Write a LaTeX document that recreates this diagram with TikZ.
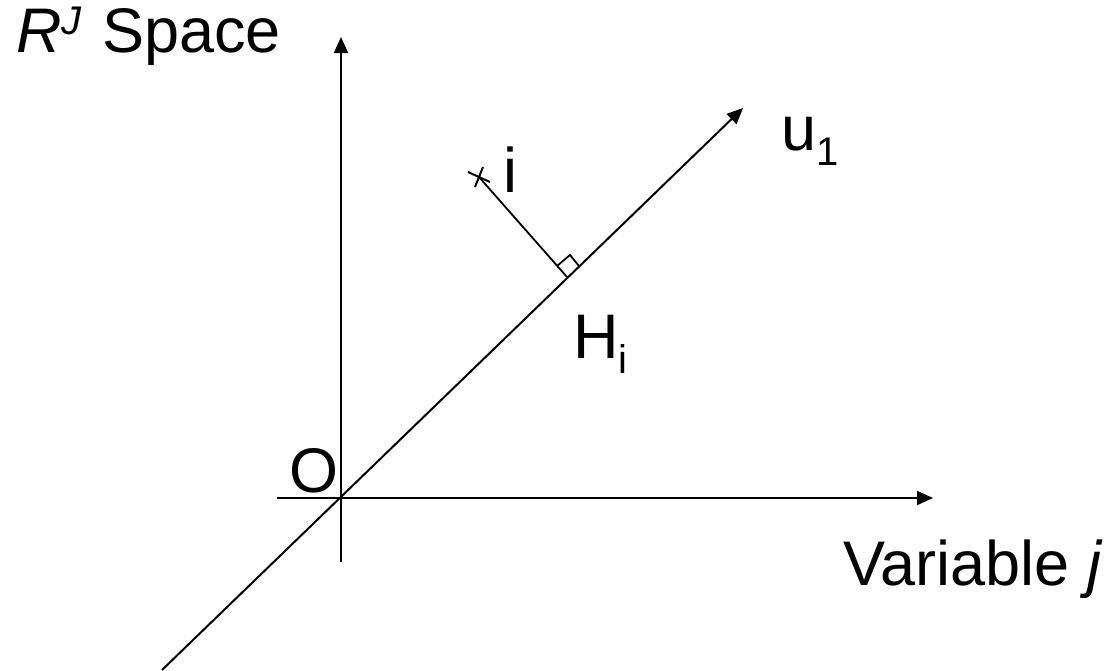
\documentclass[tikz,border=0pt]{standalone}
\usepackage{fontspec}
\setmainfont{Liberation Sans}
\usetikzlibrary{arrows.meta}
\tikzset{
  axis/.style={line width=2pt, -{Triangle[length=16pt,width=14pt]}},
  plain/.style={line width=2pt},
  thin line/.style={line width=1.8pt},
  lbl/.style={anchor=base west, inner sep=0pt, font=\fontsize{63}{70}\selectfont},
}
\newcommand{\subtxt}[1]{\raisebox{-15pt}{\fontsize{40}{40}\selectfont #1}}
\begin{document}
\begin{tikzpicture}[x=1pt,y=-1pt]
\useasboundingbox (0,0) rectangle (1115,670);
% key points
\coordinate (O) at (341,498);
\coordinate (ytop) at (341,37);
\coordinate (ybot) at (341,562);
\coordinate (xleft) at (277,498);
\coordinate (xright) at (933,498);
\coordinate (dlow) at (162,670);
\coordinate (dtop) at (743,108);
\coordinate (H) at (567,277);
\coordinate (P) at (479,177);
% axes
\draw[axis] (ybot) -- (ytop);
\draw[axis] (xleft) -- (xright);
\draw[axis] (dlow) -- (dtop);
% projection of i onto u1
\draw[thin line] (P) -- (H);
\draw[thin line] (557,266) -- (570,255) -- (579,266);
% point marker
\draw[plain] (468,172) -- (490,182);
\draw[plain] (475,187) -- (483,167);
% labels
\node[lbl] (title) at (16,52) {\textit{R}\raisebox{18pt}{\fontsize{40}{40}\selectfont\textit{J}}\hspace{20pt}Space};
\node[lbl] (u1) at (781,150) {u\subtxt{1}};
\node[lbl] (ilab) at (503,192) {i};
\node[lbl] (Hi) at (573,358) {H\subtxt{i}};
\node[lbl] (Olab) at (289,492) {O};
\node[lbl] (varj) at (843,585) {Variable \textit{j}};
\end{tikzpicture}
\end{document}
